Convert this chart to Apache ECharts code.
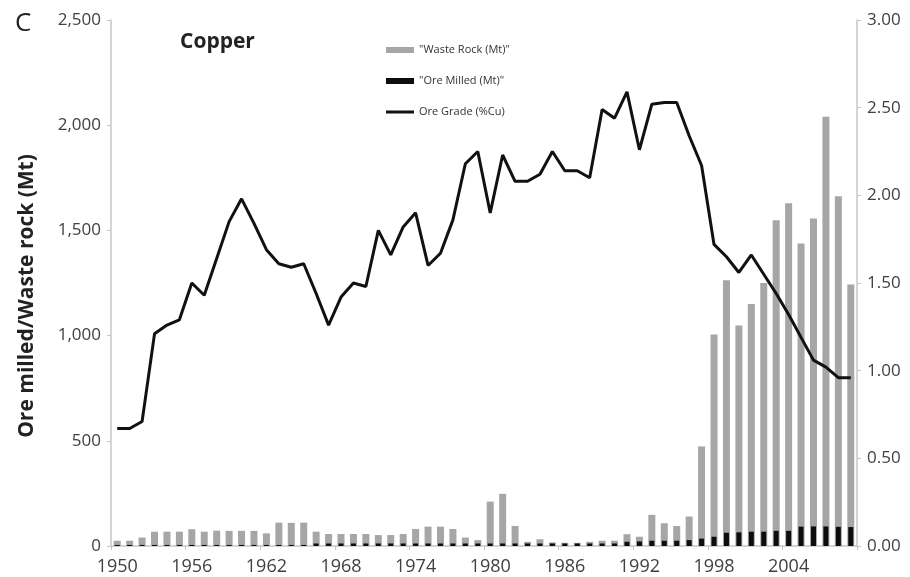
<!DOCTYPE html>
<html>
<head>
<meta charset="utf-8">
<script src="https://cdn.jsdelivr.net/npm/echarts@6/dist/echarts.min.js"></script>
<style>
  html, body { margin: 0; padding: 0; background: #fff; }
  #chart { width: 910px; height: 577px; }
</style>
</head>
<body>
<div id="chart"></div>
<script>
// Copper mining, 1950-2009: waste rock and ore milled (Mt, left axis), ore grade (%Cu, right axis)
var years = [];
for (var y = 1950; y <= 2009; y++) years.push(String(y));

var wasteRock = [
  25, 25, 40, 68, 68, 68, 80, 68, 73, 72,
  72, 72, 60, 111, 110, 111, 68, 57, 57, 57,
  57, 52, 52, 57, 81, 92, 92, 81, 40, 28,
  211, 248, 95, 20, 32, 17, 15, 15, 20, 25,
  25, 56, 44, 148, 108, 95, 140, 473, 1005, 1263,
  1048, 1150, 1250, 1548, 1629, 1438, 1557, 2040, 1662, 1243
];

var oreMilled = [
  5, 5, 5, 5, 5, 5, 5, 5, 5, 5,
  5, 5, 5, 5, 5, 5, 12, 12, 12, 12,
  12, 12, 12, 12, 12, 12, 12, 12, 12, 12,
  12, 12, 12, 12, 12, 12, 12, 12, 12, 12,
  12, 20, 22, 25, 25, 25, 28, 35, 44, 63,
  65, 68, 68, 72, 72, 92, 93, 93, 91, 90
];

var oreGrade = [
  0.67, 0.67, 0.71, 1.21, 1.26, 1.29, 1.50, 1.43, 1.64, 1.85,
  1.98, 1.84, 1.69, 1.61, 1.59, 1.61, 1.44, 1.26, 1.42, 1.50,
  1.48, 1.80, 1.66, 1.82, 1.90, 1.60, 1.67, 1.86, 2.18, 2.25,
  1.90, 2.23, 2.08, 2.08, 2.12, 2.25, 2.14, 2.14, 2.10, 2.49,
  2.44, 2.59, 2.26, 2.52, 2.53, 2.53, 2.34, 2.17, 1.72, 1.65,
  1.56, 1.66, 1.55, 1.44, 1.32, 1.19, 1.06, 1.02, 0.96, 0.96
];

var leftTicks = { min: 0, max: 2500, interval: 500 };
var rightTicks = { min: 0, max: 3, interval: 0.5 };

var FONT = '"Open Sans", "DejaVu Sans", sans-serif';
var AXIS_GREY = '#c6c6c6';
var LABEL_GREY = '#404040';

var chart = echarts.init(document.getElementById('chart'), null, { renderer: 'canvas' });

function thousands(v) {
  return String(v).replace(/\B(?=(\d{3})+(?!\d))/g, ',');
}

var xBase = {
  type: 'category',
  data: years,
  boundaryGap: true,
  axisLine: { show: true, lineStyle: { color: AXIS_GREY, width: 1.5 } },
  axisTick: { show: true, interval: 5, length: 4, lineStyle: { color: AXIS_GREY } },
  axisLabel: {
    interval: 5, margin: 12,
    fontFamily: FONT, fontSize: 18, color: LABEL_GREY
  },
  splitLine: { show: false }
};

var option = {
  backgroundColor: '#ffffff',
  animation: false,
  grid: { left: 111, right: 53, top: 20, bottom: 31 },
  legend: {
    orient: 'vertical',
    left: 381,
    top: 38,
    itemWidth: 28,
    itemHeight: 6,
    itemGap: 17,
    textStyle: { fontFamily: FONT, fontSize: 11, color: '#333', lineHeight: 14 },
    data: [
      { name: '"Waste Rock (Mt)"', icon: 'rect' },
      { name: '"Ore Milled (Mt)"', icon: 'rect' },
      { name: 'Ore Grade (%Cu)', icon: 'path://M0,0H28V3H0Z' }
    ]
  },
  xAxis: [
    xBase,
    Object.assign({}, xBase, { show: false })
  ],
  yAxis: [
    {
      type: 'value',
      position: 'left',
      min: leftTicks.min, max: leftTicks.max, interval: leftTicks.interval,
      axisLine: { show: true, lineStyle: { color: AXIS_GREY, width: 1.5 } },
      axisTick: { show: true, inside: false, length: 4, lineStyle: { color: AXIS_GREY } },
      axisLabel: {
        margin: 10, fontFamily: FONT, fontSize: 17, color: LABEL_GREY,
        formatter: function (v) { return thousands(v); }
      },
      splitLine: { show: false }
    },
    {
      type: 'value',
      position: 'right',
      min: rightTicks.min, max: rightTicks.max, interval: rightTicks.interval,
      axisLine: { show: true, lineStyle: { color: AXIS_GREY, width: 1.5 } },
      axisTick: { show: true, inside: false, length: 4, lineStyle: { color: AXIS_GREY } },
      axisLabel: {
        margin: 10, fontFamily: FONT, fontSize: 17, color: LABEL_GREY,
        formatter: function (v) { return v.toFixed(2); }
      },
      splitLine: { show: false }
    }
  ],
  graphic: [
    {
      type: 'text', left: 15, top: 11,
      style: { text: 'C', fontFamily: FONT, fontSize: 26, fill: '#222' }
    },
    {
      type: 'text', left: 180, top: 32,
      style: { text: 'Copper', fontFamily: FONT, fontSize: 21, fontWeight: 'bold', fill: '#222' }
    },
    {
      type: 'text', x: 27, y: 296, rotation: Math.PI / 2,
      style: {
        text: 'Ore milled/Waste rock (Mt)', fontFamily: FONT, fontSize: 21,
        fontWeight: 'bold', fill: '#222', align: 'center', verticalAlign: 'middle'
      }
    }
  ],
  series: [
    {
      name: '"Waste Rock (Mt)"',
      type: 'bar',
      xAxisIndex: 0, yAxisIndex: 0,
      barWidth: 7,
      itemStyle: { color: '#a6a6a6' },
      data: wasteRock,
      z: 2
    },
    {
      name: '"Ore Milled (Mt)"',
      type: 'bar',
      xAxisIndex: 1, yAxisIndex: 0,
      barWidth: 5,
      itemStyle: { color: '#0d0d0d' },
      data: oreMilled,
      z: 3
    },
    {
      name: 'Ore Grade (%Cu)',
      type: 'line',
      xAxisIndex: 0, yAxisIndex: 1,
      symbol: 'none',
      lineStyle: { color: '#111', width: 3 },
      itemStyle: { color: '#111' },
      data: oreGrade,
      z: 4
    }
  ]
};

chart.setOption(option);
</script>
</body>
</html>
